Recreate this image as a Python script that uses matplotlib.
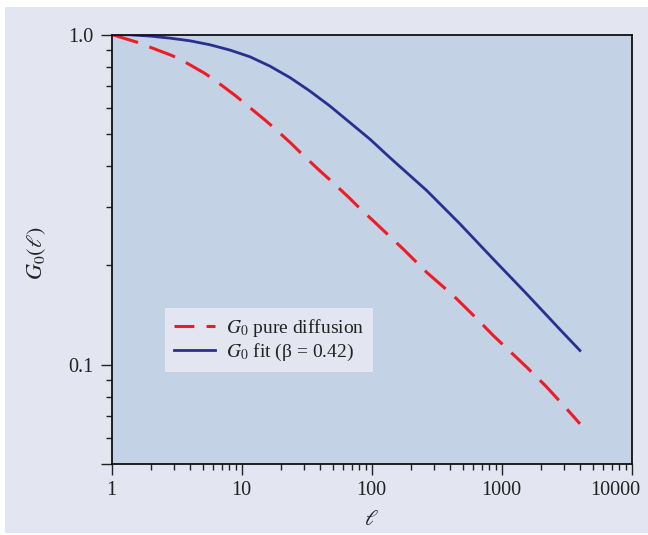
import matplotlib
matplotlib.use("Agg")
import matplotlib.pyplot as plt
from matplotlib.patches import Rectangle
from matplotlib.lines import Line2D
from matplotlib.ticker import FixedLocator, NullFormatter
from matplotlib.transforms import ScaledTranslation

# ---- data ----
ell_fit = [1, 1.38, 1.97, 2.81, 4.0, 5.70, 8.13, 11.6, 16.5, 23.6, 33.5, 47.8, 68.1,
           97.0, 138, 265, 478, 861, 1556, 2805, 4000]
g0_fit = [1.0, 0.998, 0.989, 0.975, 0.957, 0.931, 0.897, 0.856, 0.802, 0.740, 0.674,
          0.607, 0.541, 0.482, 0.424, 0.337, 0.267, 0.209, 0.164, 0.128, 0.1105]
ell_pure = [1, 1.56, 2.90, 3.56, 5.22, 6.34, 9.04, 10.8, 15.1, 18.0, 23.6, 29.2, 40.7,
            47.8, 66.8, 77.4, 108, 126, 175, 265, 425, 643, 861, 1556, 2218, 3162, 4000]
g0_pure = [1.0, 0.948, 0.864, 0.831, 0.762, 0.723, 0.651, 0.614, 0.551, 0.519, 0.471,
           0.434, 0.384, 0.363, 0.321, 0.303, 0.268, 0.253, 0.224, 0.1905, 0.162, 0.138,
           0.1227, 0.0984, 0.0857, 0.0736, 0.0663]
x_ticks = [1, 10, 100, 1000, 10000]
x_ticklabels = ["1", "10", "100", "1000", "10000"]
y_ticks = [0.05, 0.1, 1.0]
y_ticklabels = ["", "0.1", "1.0"]
labels = [r"$G_0$ pure diffusion", r"$G_0$ fit (β = 0.42)"]

plt.rcParams["font.family"] = ["Liberation Serif", "DejaVu Serif"]
plt.rcParams["mathtext.fontset"] = "stix"

RED = "#ee1c25"
BLUE = "#2b2f8f"

W, H = 648, 535
fig = plt.figure(figsize=(W / 100, H / 100), dpi=100)
fig.patch.set_facecolor("white")
fig.patches.append(Rectangle((5 / W, 2 / H), 1 - 5 / W, (533 - 7) / H,
                             transform=fig.transFigure, facecolor="#e3e5f0",
                             edgecolor="none", zorder=-5))

ax = fig.add_axes([111.7 / W, 1 - 464.3 / H, (631.7 - 111.7) / W, (464.3 - 34.5) / H])
ax.set_zorder(1)
ax.set_facecolor("#c3d2e4")
ax.set_xscale("log")
ax.set_yscale("log")
ax.set_xlim(1, 10000)
ax.set_ylim(0.05, 1.0)

ax.plot(ell_pure, g0_pure, color=RED, lw=2.2, dashes=(9, 4), solid_capstyle="butt")
ax.plot(ell_fit, g0_fit, color=BLUE, lw=2.0)

ax.xaxis.set_major_locator(FixedLocator(x_ticks))
ax.set_xticklabels(x_ticklabels)
ax.xaxis.set_minor_locator(FixedLocator([m * 10 ** d for d in range(4) for m in range(2, 10)]))
ax.xaxis.set_minor_formatter(NullFormatter())
ax.yaxis.set_major_locator(FixedLocator(y_ticks))
ax.set_yticklabels(y_ticklabels)
ax.yaxis.set_minor_locator(FixedLocator([0.06, 0.07, 0.08, 0.09] + [m / 10 for m in range(2, 10)]))
ax.yaxis.set_minor_formatter(NullFormatter())

ax.tick_params(which="major", direction="out", length=8, width=1.0, labelsize=14.5,
               color="#222222", labelcolor="#222222")
ax.tick_params(axis="x", which="major", pad=4)
ax.tick_params(axis="y", which="major", pad=5)
ax.tick_params(which="minor", direction="out", length=4.5, width=1.0, color="#222222")
for s in ax.spines.values():
    s.set_linewidth(1.3)
    s.set_color("#111111")

# last x label is pulled left so it stays inside the figure
last = ax.get_xticklabels()[-1]
last.set_transform(last.get_transform() + ScaledTranslation(-0.16, 0, fig.dpi_scale_trans))

ax.set_xlabel(r"$\ell$", fontsize=16, labelpad=8, color="#222222")
ax.set_ylabel(r"$G_0(\ell)$", fontsize=16, color="#222222")
ax.yaxis.set_label_coords(-0.122, 0.49)

handles = [Line2D([], [], color=RED, lw=2.2, dashes=(6.5, 4), solid_capstyle="butt"),
           Line2D([], [], color=BLUE, lw=2.0)]
leg = ax.legend(handles, labels, loc="upper left", bbox_to_anchor=(165 / W, 1 - 308 / H),
                bbox_transform=fig.transFigure, fontsize=14, frameon=True,
                fancybox=False, framealpha=1, edgecolor="none", facecolor="#e3e5f0",
                handlelength=2.1, handletextpad=0.6, borderpad=0.45, labelspacing=0.15,
                borderaxespad=0)
for t in leg.get_texts():
    t.set_color("#222222")

fig.savefig("out.png", dpi=100)
